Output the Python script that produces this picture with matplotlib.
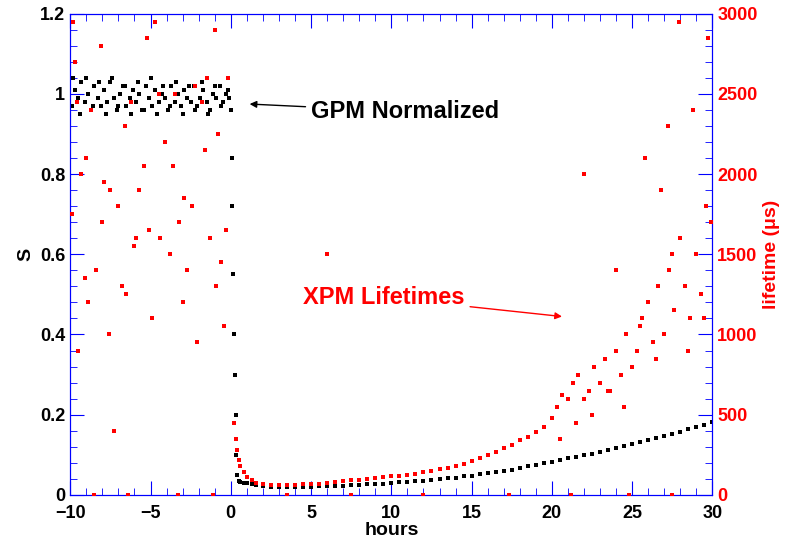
import matplotlib
matplotlib.use("Agg")
import matplotlib.pyplot as plt
from matplotlib.ticker import MultipleLocator, FuncFormatter

plt.rcParams['font.family'] = ['Liberation Sans', 'DejaVu Sans']

# GPM normalized (hours, S)
gpm_x = [-9.9,-9.7,-9.5,-9.3,-9.1,-8.9,-8.7,-8.5,-8.3,-8.1,-7.9,-7.7,-7.5,-7.3,-7.1,-6.9,-6.7,-6.5,-6.3,-6.1,
         -5.9,-5.7,-5.5,-5.3,-5.1,-4.9,-4.7,-4.5,-4.3,-4.1,-3.9,-3.7,-3.5,-3.3,-3.1,-2.9,-2.7,-2.5,-2.3,-2.1,
         -1.9,-1.7,-1.5,-1.3,-1.1,-0.9,-0.7,-0.5,-0.3,-0.1,
         -9.8,-9.4,-9.0,-8.6,-8.2,-7.8,-7.4,-7.0,-6.6,-6.2,-5.8,-5.4,-5.0,-4.6,-4.2,-3.8,-3.4,-3.0,-2.6,-2.2,-1.8,-1.4,-1.0,-0.6,-0.2,
         0.0,0.05,0.1,0.15,0.2,0.25,0.3,0.35,0.4,0.5,0.6,0.8,1.0,1.3,1.6,2.0,2.5,3.0,3.5,4.0,4.5,5.0,5.5,6.0,6.5,7.0,7.5,8.0,8.5,9.0,
         9.5,10.0,10.5,11.0,11.5,12.0,12.5,13.0,13.5,14.0,14.5,15.0,15.5,16.0,16.5,17.0,17.5,18.0,18.5,19.0,19.5,20.0,20.5,21.0,
         21.5,22.0,22.5,23.0,23.5,24.0,24.5,25.0,25.5,26.0,26.5,27.0,27.5,28.0,28.5,29.0,29.5,30.0]
gpm_y = [0.97,1.01,0.99,1.03,0.98,1.00,0.96,1.02,0.99,0.97,1.01,0.98,1.03,0.99,0.96,1.00,1.02,0.97,0.99,1.01,
         0.98,1.00,0.96,1.02,0.99,0.97,1.01,0.98,1.00,0.99,0.96,1.02,0.98,1.00,0.97,1.01,0.99,0.98,1.02,0.97,
         0.99,1.01,0.98,0.96,1.00,0.99,1.02,0.98,1.00,0.99,
         1.04,0.95,1.04,0.97,1.03,0.95,1.04,0.97,1.02,0.95,1.03,0.96,1.04,0.95,1.02,0.97,1.03,0.95,1.02,0.96,1.03,0.95,1.02,0.97,1.01,
         0.96,0.84,0.72,0.55,0.40,0.30,0.20,0.10,0.05,0.035,0.032,0.03,0.03,0.028,0.025,0.022,0.02,0.02,0.019,0.019,0.02,0.02,0.021,0.022,0.022,0.023,0.024,0.025,0.026,0.027,
         0.028,0.029,0.031,0.032,0.034,0.035,0.037,0.039,0.041,0.043,0.046,0.048,0.051,0.054,0.057,0.060,0.063,0.067,0.071,0.075,0.079,0.083,0.087,0.091,
         0.095,0.099,0.103,0.108,0.112,0.117,0.121,0.126,0.131,0.136,0.141,0.146,0.152,0.157,0.163,0.169,0.175,0.182]

# XPM lifetimes (hours, microseconds)
xpm_x = [-9.9,-9.8,-9.6,-9.5,-9.3,-9.1,-8.9,-8.7,-8.4,-8.1,-7.9,-7.6,-7.3,-7.0,-6.8,-6.5,-6.2,-5.9,-5.7,-5.4,
         -5.1,-4.9,-4.7,-4.4,-4.1,-3.8,-3.5,-3.2,-2.9,-2.7,-2.4,-2.1,-1.8,-1.5,-1.3,-1.0,-0.8,-0.6,-0.4,-0.2,
         -9.7,-9.0,-8.0,-7.5,-6.6,-6.0,-5.2,-4.5,-3.6,-3.0,-2.2,-1.6,-0.9,-0.3,
         0.2,0.3,0.4,0.5,0.6,0.8,1.0,1.3,1.6,2.0,2.5,3.0,3.5,4.0,4.5,5.0,5.5,6.0,6.5,7.0,7.5,8.0,8.5,9.0,9.5,10.0,
         10.5,11.0,11.5,12.0,12.5,13.0,13.5,14.0,14.5,15.0,15.5,16.0,16.5,17.0,17.5,18.0,18.5,19.0,19.5,20.0,
         20.3,20.6,21.0,21.3,21.6,22.0,22.3,22.6,23.0,23.3,23.6,24.0,24.3,24.6,25.0,25.3,25.6,26.0,26.3,26.6,
         27.0,27.3,27.6,28.0,28.3,28.6,29.0,29.3,29.6,29.9,
         20.5,21.5,22.5,23.5,24.5,25.5,26.5,27.5,28.5,29.5,24.0,25.8,27.2,28.8,29.7,26.8,6.0,22.0,27.9,
         -8.5,-6.4,-3.3,-1.1,3.5,7.5,12.0,17.3,21.2,24.8,27.5]
xpm_y = [1750,2950,2450,900,2000,1350,1200,2400,1400,2800,1950,1000,400,1800,1300,1250,2450,1600,1900,2050,
         1650,1100,2950,1600,2200,1500,2500,1700,1850,1400,1800,950,2450,2600,1600,2900,2250,1450,1050,2600,
         2700,2100,1700,1900,2300,1550,2850,2500,2050,1200,2550,2150,1300,1650,
         450,350,280,220,180,140,110,90,75,65,60,60,60,62,65,68,70,75,80,85,90,95,100,105,110,115,
         120,125,130,140,150,160,170,180,190,210,230,250,270,290,310,340,360,390,420,480,
         550,620,600,700,750,600,650,800,700,850,650,900,750,1000,800,900,1100,1200,950,1300,
         1000,1400,1150,1600,1300,1100,1500,1250,1800,1700,
         350,450,500,650,550,1050,850,1500,900,1100,1400,2100,2300,2400,2850,1900,1500,2000,2950,
         0,0,0,0,0,0,0,0,0,0,0]

fig = plt.figure(figsize=(7.89, 5.48), dpi=100)
ax = fig.add_axes([0.089, 0.097, 0.814, 0.878])
ax2 = ax.twinx()
blue = "#0000ff"
ax.scatter(gpm_x, gpm_y, s=8, marker="s", c="black", linewidths=0, zorder=3)
ax2.scatter(xpm_x, xpm_y, s=8, marker="s", c="red", linewidths=0, zorder=3)
ax.xaxis.set_major_locator(MultipleLocator(5)); ax.xaxis.set_minor_locator(MultipleLocator(1))
ax.yaxis.set_major_locator(MultipleLocator(0.2)); ax.yaxis.set_minor_locator(MultipleLocator(0.04))
ax2.yaxis.set_major_locator(MultipleLocator(500)); ax2.yaxis.set_minor_locator(MultipleLocator(100))
ax.yaxis.set_major_formatter(FuncFormatter(lambda v, p: "%g" % round(v, 2)))
ax.set_xlim(-10, 30); ax.set_ylim(0, 1.2); ax2.set_ylim(0, 3000)
for a in (ax, ax2):
    for sp in a.spines.values():
        sp.set_color(blue)
ax.tick_params(axis="both", which="both", direction="in", color=blue, labelsize=13)
ax.tick_params(axis="x", which="both", top=True, pad=7)
ax.tick_params(which="major", length=10); ax.tick_params(which="minor", length=5)
ax2.tick_params(axis="y", which="both", direction="in", color=blue, labelcolor="red", labelsize=13)
ax2.tick_params(which="major", length=10); ax2.tick_params(which="minor", length=5)
for lbl in ax.get_xticklabels() + ax.get_yticklabels() + ax2.get_yticklabels():
    lbl.set_fontweight("bold")
ax.set_xlabel("hours", fontsize=14, fontweight="bold", labelpad=0)
ax.set_ylabel("S", fontsize=14, fontweight="bold")
ax2.set_ylabel("lifetime (\u03bcs)", fontsize=14, fontweight="bold", color="red")
ax.annotate("GPM Normalized", xy=(1.0, 0.975), xytext=(5.0, 0.94), fontsize=17, fontweight="bold",
            arrowprops=dict(arrowstyle="-|>", color="black", lw=1, mutation_scale=10))
ax2.annotate("XPM Lifetimes", xy=(20.8, 1110), xytext=(4.5, 1190), fontsize=17, fontweight="bold", color="red",
             arrowprops=dict(arrowstyle="-|>", color="red", lw=1, mutation_scale=10))
fig.savefig("out.png", dpi=100)
